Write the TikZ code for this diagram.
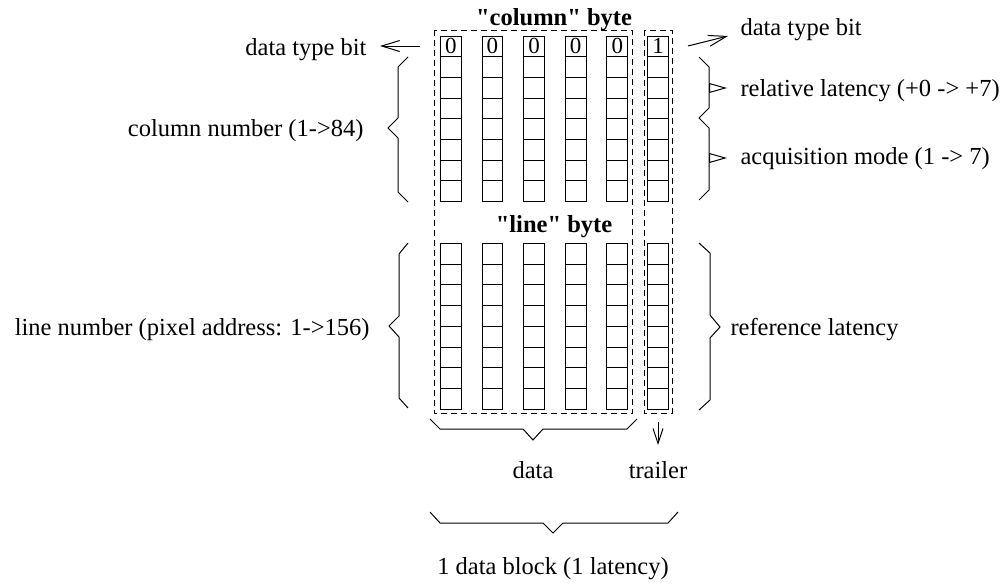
\documentclass[tikz,border=0pt]{standalone}
\usepackage{fontspec}
\setmainfont{Liberation Serif}[Ligatures=TeXOff]
\usetikzlibrary{arrows.meta}
\begin{document}
\begin{tikzpicture}[x=1pt,y=-1pt, line width=1pt,
  cell/.style={draw, minimum width=20.7pt, minimum height=20.7pt, inner sep=0pt, anchor=north west, font=\fontsize{23}{23}\selectfont},
  lbl/.style={font=\fontsize{24.5}{29}\selectfont, inner sep=0pt},
  ttl/.style={font=\fontsize{24.5}{29}\selectfont\bfseries, inner sep=0pt},
  grp/.style={draw, dash pattern=on 6pt off 4pt},
  brace/.style={draw, line join=miter},
  barb/.style={-{Straight Barb[length=18pt,width=11pt]}},
  tri/.style={-{Triangle[open,length=18pt,width=10pt]}},
]
\useasboundingbox (0,0) rectangle (1006,584);

% cells
\foreach \c in {0,...,4}{
  \pgfmathsetmacro{\xx}{440+41.6*\c}
  \foreach \r in {1,...,8}{
    \pgfmathsetmacro{\yu}{35.5+20.7*(\r-1)}
    \pgfmathsetmacro{\yl}{243+20.7*(\r-1)}
    \node[cell] (u\c-\r) at (\xx,\yu) {};
    \node[cell] (l\c-\r) at (\xx,\yl) {};
  }
  \node at (u\c-1) {\fontsize{23}{23}\selectfont 0};
}
\foreach \r in {1,...,8}{
  \pgfmathsetmacro{\yu}{35.5+20.7*(\r-1)}
  \pgfmathsetmacro{\yl}{243+20.7*(\r-1)}
  \node[cell] (ut-\r) at (647.3,\yu) {};
  \node[cell] (lt-\r) at (647.3,\yl) {};
}
\node at (ut-1) {\fontsize{23}{23}\selectfont 1};

% dashed groups
\draw[grp] (434,30) rectangle (632.5,413);
\draw[grp] (644,30) rectangle (672,413);

% texts
\node[ttl, anchor=base] (colbyte) at (554,25) {"column" byte};
\node[ttl, anchor=base] (linebyte) at (554,232) {"line" byte};
\node[lbl, anchor=base east] (dtl) at (367,55) {data type bit};
\node[lbl, anchor=base west] (dtr) at (740,35) {data type bit};
\node[lbl, anchor=base west] (rel) at (740,96) {relative latency (+0 -> +7)};
\node[lbl, anchor=base west] (acq) at (740,164) {acquisition mode (1 -> 7)};
\node[lbl, anchor=base east] (colnum) at (364,136) {column number (1->84)};
\node[lbl, anchor=base east] (linenum) at (370,335) {line number (pixel address: 1->156)};
\node[lbl, anchor=base west] (reflat) at (730,335) {reference latency};
\node[lbl, anchor=base] (data) at (533,478) {data};
\node[lbl, anchor=base] (trailer) at (658,478) {trailer};
\node[lbl, anchor=base] (block) at (553,574) {1 data block (1 latency)};

% braces
\draw[brace] (408,57) -- (398,67) -- (398,118) -- (388,128) -- (398,138) -- (398,192) -- (408,202);
\draw[brace] (408,243) -- (399,254) -- (399,316) -- (389,326) -- (399,337) -- (399,398) -- (408,408);
\draw[brace] (699,57) -- (709,67) -- (709,108) -- (699,118) -- (709,128) -- (709,190) -- (699,200);
\draw[brace] (699,243) -- (710,253) -- (710,315) -- (720,327) -- (710,338) -- (710,400) -- (699,410);
\draw[brace] (430,419) -- (440,429) -- (523,429) -- (533,440) -- (543,429) -- (627,429) -- (637,419);
\draw[brace] (430,512) -- (440,523) -- (543,523) -- (553,533) -- (563,523) -- (668,523) -- (678,512);

% arrows
\coordinate (dtlA) at (420,46);
\coordinate (dtlB) at (380,46);
\coordinate (dtrA) at (688,46);
\coordinate (dtrB) at (728,36);
\coordinate (relA) at (709,88);
\coordinate (relB) at (727,88);
\coordinate (acqA) at (709,158);
\coordinate (acqB) at (727,158);
\coordinate (trA) at (658,422);
\coordinate (trB) at (658,445);
\draw[barb] (dtlA) -- (dtlB);
\draw[barb] (dtrA) -- (dtrB);
\draw[tri] (relA) -- (relB);
\draw[tri] (acqA) -- (acqB);
\draw[-{Straight Barb[length=15pt,width=10pt]}] (trA) -- (trB);
\end{tikzpicture}
\end{document}
